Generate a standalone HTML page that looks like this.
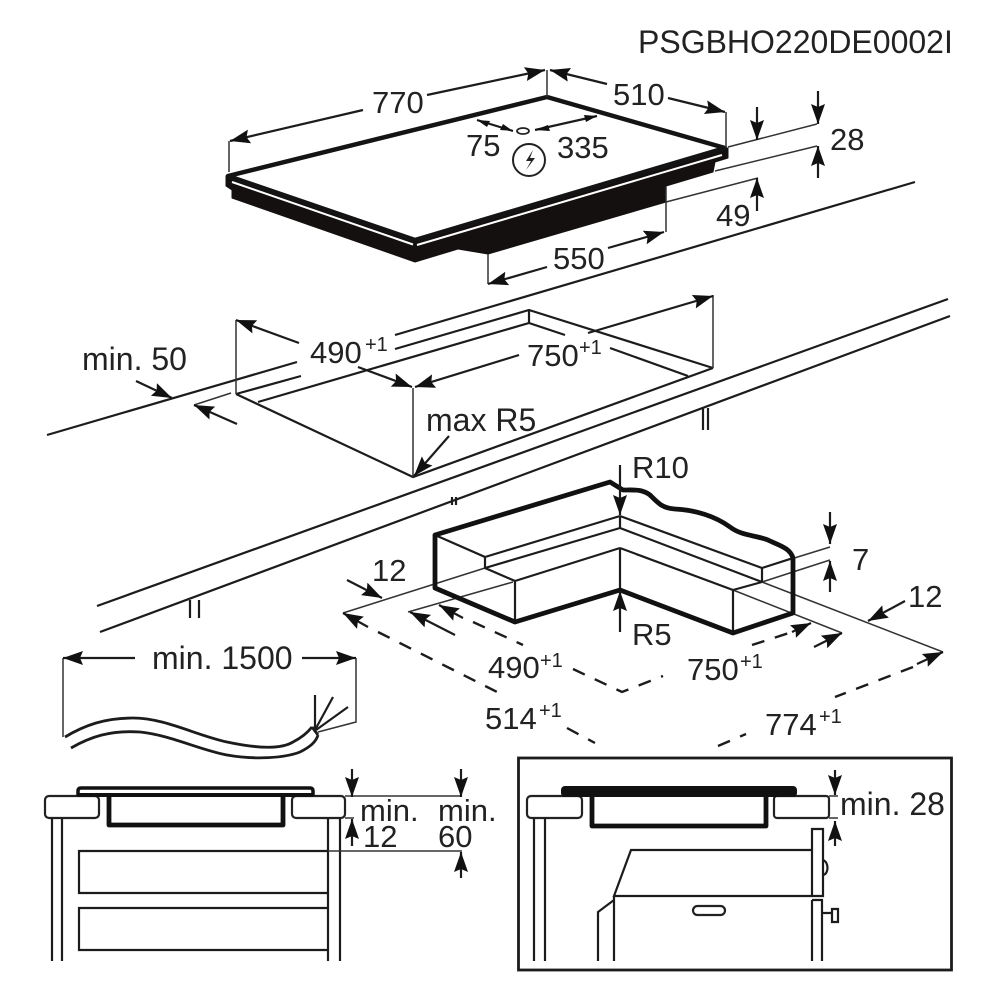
<!DOCTYPE html>
<html><head><meta charset="utf-8"><style>
html,body{margin:0;padding:0;background:#fff;width:1000px;height:1000px;overflow:hidden}
svg{display:block;filter:blur(0.35px)}
text{font-family:"Liberation Sans",sans-serif;font-size:31px;fill:#222}
.s{font-size:20px}
.l{fill:none;stroke:#1c1c1c;stroke-width:2.2}
.t{fill:none;stroke:#333;stroke-width:1.5}
.k{fill:none;stroke:#111;stroke-width:4.8;stroke-linejoin:round;stroke-linecap:round}
.a{fill:none;stroke:#1c1c1c;stroke-width:2.2;marker-end:url(#m)}
.d{fill:none;stroke:#1c1c1c;stroke-width:2.4;stroke-dasharray:13 11}
</style></head><body>
<svg width="1000" height="1000" viewBox="0 0 1000 1000" xmlns="http://www.w3.org/2000/svg">
<defs><marker id="m" markerUnits="userSpaceOnUse" markerWidth="24" markerHeight="16" refX="20" refY="7" orient="auto"><path d="M0,0 L20,7 L0,14 L3,7 Z" fill="#111"/></marker></defs>

<text x="638" y="53" style="font-size:32px">PSGBHO220DE0002I</text>

<!-- hob -->
<path d="M226,176 L226,186 L232,190 L232,198 L415,262 L458,249 L488,254 L666,202 L666,186 L713,172 L715,162 L728,158 L728,148 L415,240 Z" fill="#141010" stroke="#141010" stroke-linejoin="round"/>
<path d="M228,176 L547,97 L725,148 L415,240 Z" fill="#fff" stroke="#141414" stroke-width="4.500" stroke-linejoin="round"/>
<path d="M232,182 L413,244.500 M417,245 L722,155" fill="none" stroke="#fff" stroke-width="2"/>
<path class="t" d="M229,141V172 M547,70V97 M726,112V148 M488,254V284 M666,187V232 M728,147 L817,124 M715,171 L817,146 M666,202 L758,178"/>
<path class="a" d="M363,110 L230,141"/><path class="a" d="M427,95 L545,70"/>
<path class="a" d="M607,84 L550,70"/><path class="a" d="M668,98 L725,112"/>
<path class="a" d="M547,267 L488,284"/><path class="a" d="M608,248 L664,232"/>
<path class="a" d="M757,107 L757,140"/><path class="a" d="M818,91 L818,124"/><path class="a" d="M818,178 L818,146"/><path class="a" d="M757,211 L757,178"/>
<path d="M477,120 L513,131 M535,130 L597,116" class="l"/>
<path d="M477,120 l13,1 l-3,6Z M513,131 l-13,-1 l3,-6Z M535,130 l13,-5 l2,6Z M597,116 l-13,-1 l2,7Z" fill="#111"/>
<ellipse cx="523" cy="131" rx="6" ry="3" fill="#fff" stroke="#222" stroke-width="1.800"/>
<circle cx="529" cy="160" r="16" fill="none" stroke="#222" stroke-width="2"/>
<path d="M533,150 L526,161 L531,161 L526,170 L535,158 L530,158 Z" fill="#222"/>
<text x="372" y="113">770</text><text x="613" y="105">510</text>
<text x="466" y="156">75</text><text x="557" y="158">335</text>
<text x="830" y="150">28</text><text x="716" y="226">49</text><text x="553" y="269">550</text>

<!-- worktop -->
<path class="l" d="M47,435 L297,362 M395,335 L915,182 M236,394 L301,376 M395,349 L529,310 L713,368 M258,402 L529,323 L565,335 M610,348 L688,376 M529,310V323 M236,394 L413,477 L713,368 M97,606 L948,299 M100,632 L950,316 M703,408V430 M708,408V430 M452,497V505 M456,497V505 M190,600V618 M199,600V618"/>
<path class="t" d="M236,320V394 M713,295V368 M413,388V477 M194,405 L231,393"/>
<path class="a" d="M299,343 L236,320"/><path class="a" d="M358,367 L412,387"/>
<path class="a" d="M519,355 L415,387"/><path class="a" d="M588,333 L713,296"/>
<path class="a" d="M136,381 L172,398"/><path class="a" d="M237,424 L194,405"/>
<path class="a" d="M449,436 L414,476"/>
<text x="82" y="370" style="font-size:32px">min. 50</text>
<text x="310" y="363">490</text><text x="365" y="351" class="s">+1</text>
<text x="527" y="366">750</text><text x="579" y="354" class="s">+1</text>
<text x="426" y="431" style="font-size:32px">max R5</text>

<!-- corner block -->
<path class="t" d="M343,613 L485,568 M408,612 L513,582 M762,568 L830,547 M762,582 L830,560 M733,590 L842,633 M762,582 L943,652"/>
<path class="l" d="M435,535 L485,557 V568 L515,581 V622 M485,557 L620,516 M485,568 L620,528 M515,581 L620,548 M620,516V528 M620,548V590 M620,516 L762,568 M620,528 L762,582 M620,548 L733,590 V633 M762,568V582 M762,568 L793,558 M733,590 L762,582"/>
<path class="k" d="M435,535 L610,482 L623,490 C635,490 642,489 650,495 C658,503 662,508 675,509 C695,510 715,516 730,527 C742,536 755,535 768,540 C780,546 790,548 793,558 L793,613 L733,633 L620,590 L515,622 L435,588 Z"/>
<path class="a" d="M620,465 L620,515"/><path class="a" d="M620,632 L620,591"/>
<path class="a" d="M830,512 L830,544"/><path class="a" d="M830,592 L830,561"/>
<path class="a" d="M347,580 L382,598"/><path class="a" d="M905,601 L868,621"/>
<path class="a" d="M463,618 L439,605"/><path class="a" d="M455,635 L410,612"/>
<path class="a" d="M792,632 L811,623"/><path class="a" d="M814,647 L842,633"/>
<path class="a" d="M368,627 L343,613"/><path class="a" d="M917,664 L943,652"/>
<path class="d" d="M473,622 L523,645 M573,669 L622,692 L663,676 M752,645 L792,632 M378,632 L503,695 M567,728 L595,743 M718,746 L746,734 M913,667 L835,697"/>
<text x="632" y="478">R10</text><text x="632" y="645">R5</text>
<text x="372" y="581">12</text><text x="852" y="570">7</text><text x="908" y="607">12</text>
<text x="488" y="678">490</text><text x="540" y="667" class="s">+1</text>
<text x="687" y="680">750</text><text x="740" y="668" class="s">+1</text>
<text x="485" y="729">514</text><text x="539" y="717" class="s">+1</text>
<text x="765" y="735">774</text><text x="819" y="723" class="s">+1</text>

<!-- cable -->
<path class="t" d="M63,658V737 M356,658V722 L318,732"/>
<path class="a" d="M135,658 L63,658"/><path class="a" d="M302,658 L356,658"/>
<path d="M65,737 C85,725 105,718 133,718 C165,718 195,735 227,742 C255,748 280,750 293,742 C303,737 308,732 312,727 M71,748 C90,737 110,730 140,732 C170,735 200,750 227,755 C255,760 285,758 300,752 C310,747 316,742 318,735 M312,727 L318,735" fill="none" stroke="#1c1c1c" stroke-width="2.800"/>
<path class="l" d="M315,730V695 M315,730 L333,697 M316,730 L348,707"/>
<text x="152" y="669" style="font-size:32px">min. 1500</text>

<!-- bottom left section -->
<rect x="45" y="796" width="54" height="22" rx="4" fill="#fff" stroke="#222" stroke-width="2.200"/>
<rect x="292" y="796" width="53" height="22" rx="4" fill="#fff" stroke="#222" stroke-width="2.200"/>
<path class="k" d="M109,797 V825 H283 V797"/>
<path d="M78,796 V791 Q78,788 81,788 H310 Q313,788 313,791 V796" fill="#fff" stroke="#111" stroke-width="3.500"/>
<path d="M78,795H313" stroke="#111" stroke-width="4"/>
<path class="l" d="M52,818V961 M62,818V961 M328,818V961 M340,818V961"/>
<path class="l" d="M328,851 H79 V893 H328 M328,908 H79 V950 H328"/>
<path class="t" d="M345,796 H462 M345,818 H354 M328,851 H462"/>
<path class="a" d="M352,769 L352,797"/><path class="a" d="M461,769 L461,797"/>
<path class="a" d="M352,846 L352,819"/><path class="a" d="M461,878 L461,852"/>
<text x="360" y="821" style="font-size:31px">min.</text><text x="438" y="821" style="font-size:31px">min.</text>
<text x="363" y="847">12</text><text x="438" y="847">60</text>

<!-- bottom right box -->
<rect x="518.500" y="758" width="433" height="212" fill="none" stroke="#1c1c1c" stroke-width="2.800"/>
<rect x="527" y="796" width="55" height="22" rx="4" fill="#fff" stroke="#222" stroke-width="2.200"/>
<rect x="774" y="796" width="55" height="22" rx="3" fill="#fff" stroke="#222" stroke-width="2.200"/>
<path class="k" d="M592,797 V826 H766 V797"/>
<rect x="562" y="787" width="234" height="9" rx="3" fill="#111" stroke="#111" stroke-width="2"/>
<path class="l" d="M534,818V961 M545,818V961"/>
<path class="l" d="M812,850 V829 H823 V896 H614 L631,850 H812 V896 M614,896 V961 M614,900 L598,912 V961 M812,900 V961 M812,900 H822 V961 M823,860 C829,862 829,874 823,875 M823,913 H832 M832,909 H838 V922 H832 Z"/>
<rect x="693" y="906" width="32" height="9" rx="4.500" fill="none" stroke="#222" stroke-width="2.200"/>
<path class="t" d="M829,796 H838 M829,818 H838"/>
<path class="a" d="M835,770 L835,795"/><path class="a" d="M835,846 L835,821"/>
<text x="840" y="815" style="font-size:32px">min. 28</text>
</svg>
</body></html>
